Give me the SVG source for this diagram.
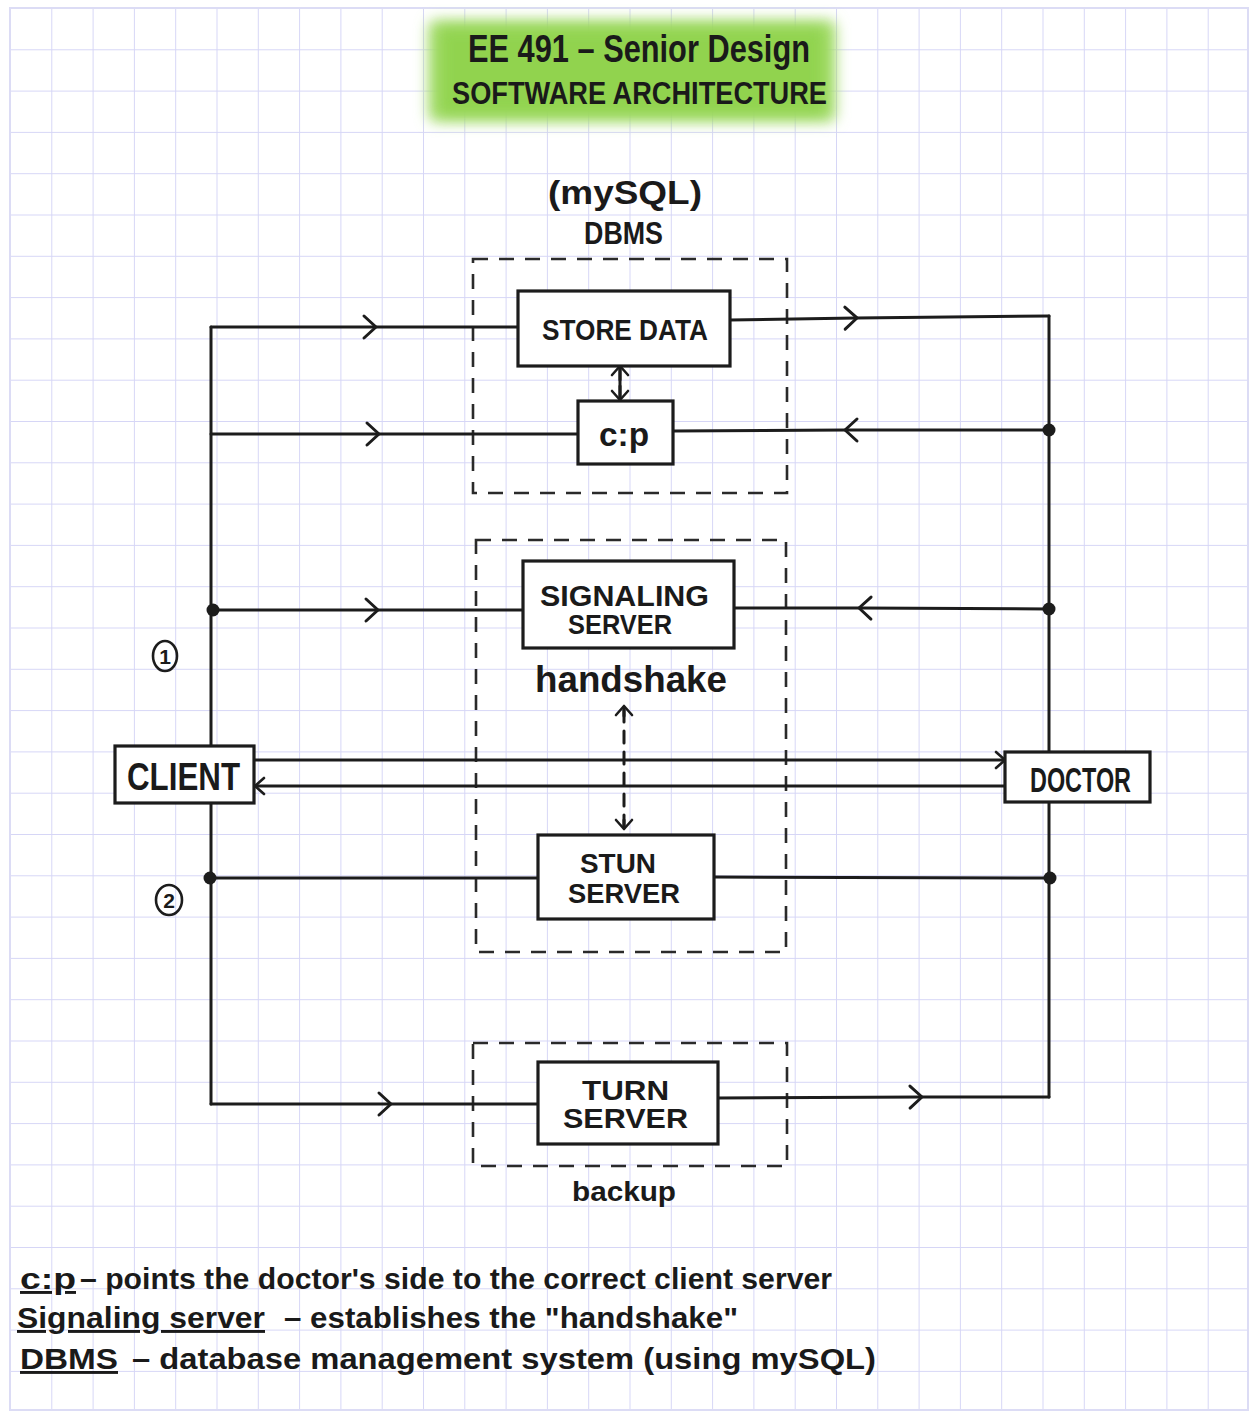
<svg xmlns="http://www.w3.org/2000/svg" xmlns:xlink="http://www.w3.org/1999/xlink" width="1251" height="1414" viewBox="0 0 1251 1414">
<defs>
<pattern id="grid" x="10" y="8" width="41.3" height="41.3" patternUnits="userSpaceOnUse">
<path d="M0,0 H41.3 M0,0 V41.3" fill="none" stroke="#d6d6f6" stroke-width="2"/>
</pattern>
<filter id="blur" x="-20%" y="-40%" width="140%" height="180%"><feGaussianBlur stdDeviation="7"/></filter>
<marker id="chev" markerUnits="userSpaceOnUse" viewBox="-16 -16 32 32" markerWidth="32" markerHeight="32" refX="0" refY="0" orient="auto" overflow="visible">
<path d="M-11,-11 L1,0 L-11,11" fill="none" stroke="#1c1c1c" stroke-width="3" stroke-linecap="round" stroke-linejoin="round"/>
</marker>
<marker id="chevs" markerUnits="userSpaceOnUse" viewBox="-12 -12 24 24" markerWidth="24" markerHeight="24" refX="0" refY="0" orient="auto" overflow="visible">
<path d="M-8,-8 L1,0 L-8,8" fill="none" stroke="#1c1c1c" stroke-width="2.6" stroke-linecap="round" stroke-linejoin="round"/>
</marker>
</defs>
<style>
.ln{fill:none;stroke:#1c1c1c;stroke-width:3;stroke-linecap:round;stroke-linejoin:round}
.box{fill:#fff;stroke:#1c1c1c;stroke-width:3.2}
.dash{fill:none;stroke:#2a2a2a;stroke-width:2.6;stroke-dasharray:15 11}
.dot{fill:#1c1c1c}
.t{font-family:"Liberation Sans",Arial,sans-serif;font-weight:bold;fill:#1a1a1a}
.leg{font-family:"Liberation Sans Narrow","Liberation Sans",Arial,sans-serif;font-weight:bold;fill:#1a1a1a;font-size:29px}
</style>
<rect width="1251" height="1414" fill="#fff"/>
<rect x="10" y="8" width="1238" height="1402" fill="url(#grid)"/>
<rect x="10" y="8" width="1238" height="1402" fill="none" stroke="#dcdcf5" stroke-width="2"/>

<g id="title">
<rect x="428" y="20" width="408" height="102" rx="8" fill="#a6dd6e" filter="url(#blur)"/>
<rect x="440" y="28" width="384" height="86" fill="#8fd34c" filter="url(#blur)" opacity="0.9"/>
<text class="t" x="468" y="62" font-size="38" textLength="342" lengthAdjust="spacingAndGlyphs">EE 491 – Senior Design</text>
<text class="t" x="452" y="104" font-size="32" textLength="375" lengthAdjust="spacingAndGlyphs">SOFTWARE ARCHITECTURE</text>
</g>

<g id="dbms-label">
<text class="t" x="548" y="204" font-size="34" textLength="154" lengthAdjust="spacingAndGlyphs">(mySQL)</text>
<text class="t" x="584" y="244" font-size="31" textLength="79" lengthAdjust="spacingAndGlyphs">DBMS</text>
</g>

<g id="groups">
<rect class="dash" x="473" y="259" width="314" height="234"/>
<rect class="dash" x="476" y="540" width="310" height="412"/>
<rect class="dash" x="473" y="1043" width="314" height="123"/>
</g>

<g id="connectors">
<!-- left bus -->
<path class="ln" d="M211,746 V327"/>
<path class="ln" d="M211,803 V1104"/>
<!-- right bus -->
<path class="ln" d="M1049,752 V316"/>
<path class="ln" d="M1049,802 V1097"/>
<!-- store data row -->
<path class="ln" d="M211,327 L375,327" marker-end="url(#chev)"/>
<path class="ln" d="M375,327 L518,327"/>
<path class="ln" d="M730,320 L856,318" marker-end="url(#chev)"/>
<path class="ln" d="M856,318 L1049,316"/>
<!-- c:p row -->
<path class="ln" d="M211,434 L378,434" marker-end="url(#chev)"/>
<path class="ln" d="M378,434 L578,434"/>
<path class="ln" d="M1049,430 L846,430" marker-end="url(#chev)"/>
<path class="ln" d="M846,430 L673,431"/>
<!-- store data <-> c:p -->
<path class="ln" d="M620,380 L620,367" stroke-width="2.6" marker-end="url(#chevs)"/>
<path class="ln" d="M620,386 L620,399" stroke-width="2.6" marker-end="url(#chevs)"/>
<path class="ln" d="M620,368 L620,398" stroke-width="2.6"/>
<!-- signaling row -->
<path class="ln" d="M213,610 L377,610" marker-end="url(#chev)"/>
<path class="ln" d="M377,610 L523,610"/>
<path class="ln" d="M1049,609 L860,608" marker-end="url(#chev)"/>
<path class="ln" d="M860,608 L734,608"/>
<!-- handshake dashed double arrow -->
<path class="ln" d="M624,710 L624,826" stroke-width="2.6" stroke-dasharray="12 9"/>
<path class="ln" d="M624,716 L624,707" stroke-width="2.6" marker-end="url(#chevs)"/>
<path class="ln" d="M624,820 L624,828" stroke-width="2.6" marker-end="url(#chevs)"/>
<!-- client <-> doctor -->
<path class="ln" d="M254,760 L1004,760" stroke-width="2.6" marker-end="url(#chevs)"/>
<path class="ln" d="M1005,786 L256,786" stroke-width="2.6" marker-end="url(#chevs)"/>
<!-- stun row -->
<path class="ln" d="M210,878 L538,878"/>
<path class="ln" d="M714,877 L1050,878"/>
<!-- turn row -->
<path class="ln" d="M211,1104 L390,1104" marker-end="url(#chev)"/>
<path class="ln" d="M390,1104 L538,1104"/>
<path class="ln" d="M718,1098 L921,1097" marker-end="url(#chev)"/>
<path class="ln" d="M921,1097 L1049,1097"/>
<!-- junction dots -->
<circle class="dot" cx="213" cy="610" r="6.5"/>
<circle class="dot" cx="210" cy="878" r="6.5"/>
<circle class="dot" cx="1049" cy="430" r="6.5"/>
<circle class="dot" cx="1049" cy="609" r="6.5"/>
<circle class="dot" cx="1050" cy="878" r="6.5"/>
</g>

<g id="store-data">
<rect class="box" x="518" y="291" width="212" height="75"/>
<text class="t" x="542" y="340" font-size="30" textLength="166" lengthAdjust="spacingAndGlyphs">STORE DATA</text>
</g>
<g id="cp">
<rect class="box" x="578" y="401" width="95" height="63"/>
<text class="t" x="599" y="446" font-size="34" textLength="50" lengthAdjust="spacingAndGlyphs">c:p</text>
</g>
<g id="signaling-server">
<rect class="box" x="523" y="561" width="211" height="87"/>
<text class="t" x="540" y="606" font-size="29" textLength="169" lengthAdjust="spacingAndGlyphs">SIGNALING</text>
<text class="t" x="568" y="634" font-size="28" textLength="104" lengthAdjust="spacingAndGlyphs">SERVER</text>
</g>
<g id="handshake-label">
<text class="t" x="535" y="692" font-size="36" textLength="192" lengthAdjust="spacingAndGlyphs">handshake</text>
</g>
<g id="stun-server">
<rect class="box" x="538" y="835" width="176" height="84"/>
<text class="t" x="580" y="873" font-size="28" textLength="76" lengthAdjust="spacingAndGlyphs">STUN</text>
<text class="t" x="568" y="903" font-size="28" textLength="112" lengthAdjust="spacingAndGlyphs">SERVER</text>
</g>
<g id="turn-server">
<rect class="box" x="538" y="1062" width="180" height="82"/>
<text class="t" x="582" y="1100" font-size="28" textLength="87" lengthAdjust="spacingAndGlyphs">TURN</text>
<text class="t" x="563" y="1128" font-size="28" textLength="125" lengthAdjust="spacingAndGlyphs">SERVER</text>
</g>
<g id="backup-label">
<text class="t" x="572" y="1201" font-size="27" textLength="104" lengthAdjust="spacingAndGlyphs">backup</text>
</g>
<g id="client">
<rect class="box" x="115" y="746" width="139" height="57"/>
<text class="t" x="127" y="790" font-size="38" textLength="113" lengthAdjust="spacingAndGlyphs">CLIENT</text>
</g>
<g id="doctor">
<rect class="box" x="1005" y="752" width="145" height="50"/>
<text class="t" x="1030" y="792" font-size="35" textLength="101" lengthAdjust="spacingAndGlyphs">DOCTOR</text>
</g>
<g id="step-1">
<ellipse cx="165" cy="656" rx="12" ry="15" fill="none" stroke="#1c1c1c" stroke-width="2.6"/>
<text class="t" x="165" y="664" font-size="21" text-anchor="middle">1</text>
</g>
<g id="step-2">
<ellipse cx="169" cy="900" rx="13" ry="15" fill="none" stroke="#1c1c1c" stroke-width="2.6"/>
<text class="t" x="169" y="908" font-size="21" text-anchor="middle">2</text>
</g>

<g id="legend">
<text class="leg" x="20" y="1289" textLength="56" lengthAdjust="spacingAndGlyphs" text-decoration="underline">c:p</text>
<text class="leg" x="80" y="1289" textLength="752" lengthAdjust="spacingAndGlyphs">– points the doctor's side to the correct client server</text>
<text class="leg" x="17" y="1328" textLength="248" lengthAdjust="spacingAndGlyphs" text-decoration="underline">Signaling server</text>
<text class="leg" x="284" y="1328" textLength="454" lengthAdjust="spacingAndGlyphs">– establishes the "handshake"</text>
<text class="leg" x="20" y="1369" textLength="98" lengthAdjust="spacingAndGlyphs" text-decoration="underline">DBMS</text>
<text class="leg" x="132" y="1369" textLength="744" lengthAdjust="spacingAndGlyphs">– database management system (using mySQL)</text>
</g>
</svg>
